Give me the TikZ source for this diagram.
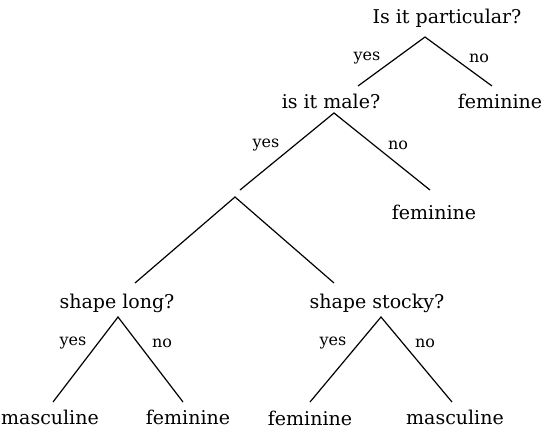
\documentclass[tikz,border=0pt]{standalone}
\usepackage{fontspec}
\setmainfont{DejaVu Serif}
\begin{document}
\begin{tikzpicture}[x=1pt,y=-1pt,
  lbl/.style={font=\fontsize{19}{22}\selectfont, inner sep=0pt},
  sm/.style={font=\fontsize{16}{19}\selectfont, inner sep=0pt},
  br/.style={line width=1.2pt, black}]
\useasboundingbox (0,0) rectangle (542,429);
% nodes
\node[lbl] (q1) at (447,18) {Is it particular?};
\node[lbl] (q2) at (331,101) {is it male?};
\node[lbl] (f1) at (500,101) {feminine};
\node[lbl] (f2) at (434,212) {feminine};
\node[lbl] (q3) at (117,303) {shape long?};
\node[lbl] (q4) at (377,303) {shape stocky?};
\node[lbl] (m1) at (50,417) {masculine};
\node[lbl] (f3) at (188,417) {feminine};
\node[lbl] (f4) at (310,418) {feminine};
\node[lbl] (m2) at (455,417) {masculine};
% connector points
\coordinate (a1) at (425,37);
\coordinate (a1l) at (358,86);
\coordinate (a1r) at (492,86);
\coordinate (a2) at (334,113);
\coordinate (a2l) at (240,190);
\coordinate (a2r) at (430,190);
\coordinate (a3) at (235,197);
\coordinate (a3l) at (135,283);
\coordinate (a3r) at (334,283);
\coordinate (a4) at (118,317);
\coordinate (a4l) at (53,402);
\coordinate (a4r) at (183,402);
\coordinate (a5) at (381,317);
\coordinate (a5l) at (310,402);
\coordinate (a5r) at (452,402);
\draw[br] (a1l) -- (a1) -- (a1r);
\draw[br] (a2l) -- (a2) -- (a2r);
\draw[br] (a3l) -- (a3) -- (a3r);
\draw[br] (a4l) -- (a4) -- (a4r);
\draw[br] (a5l) -- (a5) -- (a5r);
% branch labels
\node[sm] (y1) at (367,58) {yes};
\node[sm] (n1) at (479,58) {no};
\node[sm] (y2) at (266,145) {yes};
\node[sm] (n2) at (398,145) {no};
\node[sm] (y3) at (73,343) {yes};
\node[sm] (n3) at (162,343) {no};
\node[sm] (y4) at (333,343) {yes};
\node[sm] (n4) at (425,343) {no};
\end{tikzpicture}
\end{document}
